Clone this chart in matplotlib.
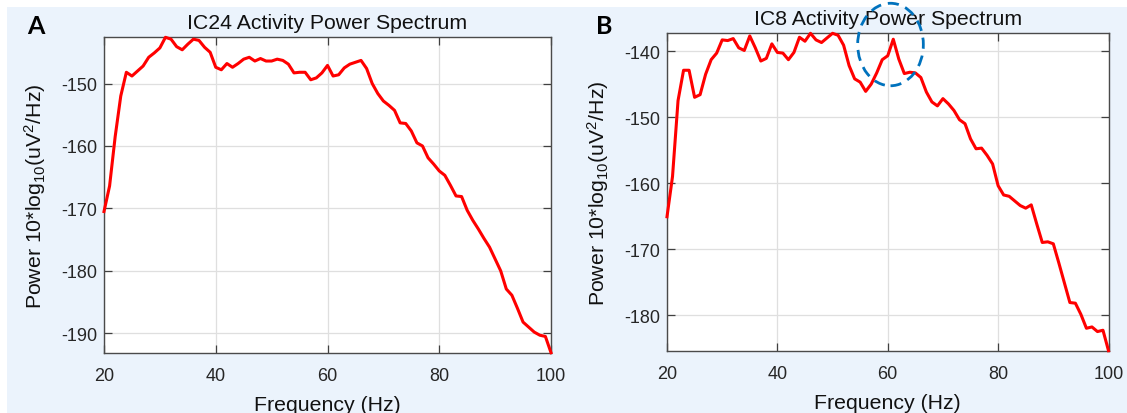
import matplotlib
matplotlib.use("Agg")
import matplotlib.pyplot as plt
from matplotlib.patches import Ellipse, Rectangle
import numpy as np

plt.rcParams['font.family'] = ['Liberation Sans', 'DejaVu Sans']
plt.rcParams['mathtext.fontset'] = 'custom'
plt.rcParams['mathtext.rm'] = 'Liberation Sans'
plt.rcParams['mathtext.it'] = 'Liberation Sans:italic'
plt.rcParams['axes.unicode_minus'] = False

# ---------------- data ----------------
freq = list(range(20, 101))

power_ic24 = [
    -170.5, -166.4, -158.5, -152.0, -148.2, -148.8, -148.0, -147.2, -145.8, -145.1,
    -144.3, -142.6, -142.9, -144.1, -144.6, -143.7, -142.9, -143.1, -144.2, -145.0,
    -147.4, -147.8, -146.8, -147.4, -146.8, -146.1, -145.8, -146.4, -146.0, -146.4,
    -146.4, -146.1, -146.3, -146.9, -148.3, -148.2, -148.2, -149.4, -149.1, -148.3,
    -147.1, -148.8, -148.6, -147.5, -146.9, -146.6, -146.3, -147.6, -150.0, -151.6,
    -152.8, -153.5, -154.3, -156.3, -156.4, -157.6, -159.5, -160.0, -161.9, -162.9,
    -164.0, -164.7, -166.3, -168.0, -168.1, -170.3, -171.9, -173.3, -174.8, -176.2,
    -178.1, -180.0, -182.9, -183.9, -186.0, -188.2, -189.0, -189.8, -190.3, -190.5,
    -193.1,
]

power_ic8 = [
    -165.1, -159.0, -147.5, -142.9, -142.9, -147.0, -146.6, -143.5, -141.3, -140.3,
    -138.3, -138.4, -138.1, -139.5, -139.9, -137.7, -139.5, -141.5, -141.1, -138.9,
    -140.2, -140.3, -141.3, -140.2, -137.9, -138.5, -137.3, -138.3, -138.7, -138.0,
    -137.3, -137.6, -139.1, -142.2, -144.2, -144.7, -146.1, -145.0, -143.3, -141.3,
    -140.7, -138.2, -141.2, -143.4, -143.2, -143.3, -144.0, -146.2, -147.7, -148.3,
    -147.2, -148.0, -149.0, -150.4, -151.0, -153.3, -154.8, -154.7, -155.8, -157.1,
    -160.4, -161.8, -162.0, -162.7, -163.4, -163.8, -163.3, -166.2, -169.0, -168.9,
    -169.2, -172.1, -175.1, -178.1, -178.2, -179.9, -182.0, -181.8, -182.5, -182.3,
    -185.4,
]

titles = ["IC24 Activity Power Spectrum", "IC8 Activity Power Spectrum"]
panel_letters = ["A", "B"]
xticks = [20, 40, 60, 80, 100]
yticks_a = [-190, -180, -170, -160, -150]
yticks_b = [-180, -170, -160, -150, -140]
xlabel = "Frequency (Hz)"
ylabel = "Power 10*log$_{10}$(uV$^2$/Hz)"

# annotation: dashed circle around 60 Hz line-noise peak (data coords of panel B)
circle_center = (60.5, -139.0)
circle_size = (11.9, 12.5)

# ---------------- figure ----------------
W, H = 1127, 414
fig = plt.figure(figsize=(W / 100, H / 100), dpi=100)
fig.patch.set_facecolor('white')
bg = Rectangle((7 / W, 0), 1 - 7 / W, 1 - 8 / H, transform=fig.transFigure,
               facecolor='#EBF3FC', edgecolor='none', zorder=-10)
fig.patches.append(bg)

ax_a = fig.add_axes([104 / W, 1 - 353.7 / H, (551 - 104) / W, (353.7 - 38.3) / H])
ax_b = fig.add_axes([667 / W, 1 - 351.7 / H, (1108.5 - 667) / W, (351.7 - 34.3) / H])

tick_col = '#262626'
for ax, y, title, yt in [(ax_a, power_ic24, titles[0], yticks_a),
                          (ax_b, power_ic8, titles[1], yticks_b)]:
    ax.set_facecolor('white')
    ax.plot(freq, y, color='#FF0000', lw=2.2, solid_joinstyle='round', zorder=3,
            clip_on=False)
    ax.set_xlim(min(freq), max(freq))
    ax.set_ylim(min(y), max(y))
    ax.set_xticks(xticks)
    ax.set_yticks(yt)
    ax.grid(True, color='#DFDFDF', lw=0.9)
    ax.set_axisbelow(True)
    ax.tick_params(direction='in', length=5.5, width=0.9, colors='#404040',
                   labelcolor=tick_col, labelsize=13, top=True, right=True)
    ax.tick_params(axis='x', pad=10)
    ax.tick_params(axis='y', pad=5)
    for s in ax.spines.values():
        s.set_color('#4a4a4a')
        s.set_linewidth(1.0)
    ax.set_title(title, fontsize=15.3, color='#111111', pad=7)
    ax.set_xlabel(xlabel, fontsize=15.3, color='#111111', va='center')
    ax.xaxis.set_label_coords(0.5, -0.163)
    ax.set_ylabel(ylabel, fontsize=15.3, color='#111111', va='center')

ax_a.yaxis.set_label_coords((35 - 104) / 447, 0.5)
ax_b.yaxis.set_label_coords((598 - 667) / 441.5, 0.5)

fig.text(35.5 / W, 1 - 26 / H, panel_letters[0], fontsize=18, fontweight='bold',
         family=['Lato', 'DejaVu Sans'], ha='center', va='center')
fig.text(604.5 / W, 1 - 26 / H, panel_letters[1], fontsize=18, fontweight='bold',
         family=['Lato', 'DejaVu Sans'], ha='center', va='center')

ell = Ellipse(circle_center, circle_size[0], circle_size[1], fill=False,
              edgecolor='#0072BD', lw=2.0, linestyle=(0, (4, 2.5)),
              clip_on=False, zorder=10)
ax_b.add_patch(ell)

fig.savefig('out.png', dpi=100, facecolor=fig.get_facecolor())
